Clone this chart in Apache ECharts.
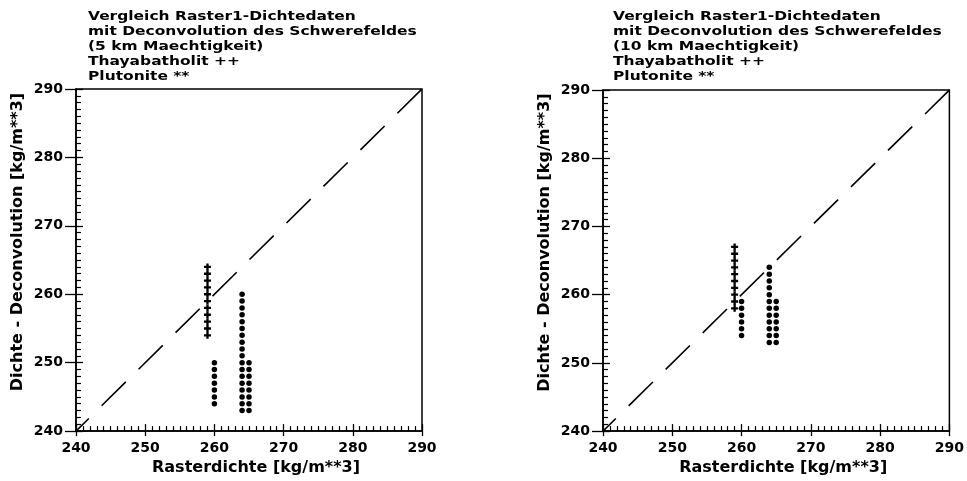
<!DOCTYPE html>
<html>
<head>
<meta charset="utf-8">
<script src="https://cdn.jsdelivr.net/npm/echarts@6/dist/echarts.min.js"></script>
<style>
html,body{margin:0;padding:0;background:#fff;}
#chart{width:967px;height:481px;}
</style>
</head>
<body>
<div id="chart"></div>
<script>
// ---- data ----
const titleLeft = ['Vergleich Raster1-Dichtedaten', 'mit Deconvolution des Schwerefeldes', '(5 km Maechtigkeit)', 'Thayabatholit ++', 'Plutonite **'];
const titleRight = ['Vergleich Raster1-Dichtedaten', 'mit Deconvolution des Schwerefeldes', '(10 km Maechtigkeit)', 'Thayabatholit ++', 'Plutonite **'];
const xAxisName = 'Rasterdichte [kg/m**3]';
const yAxisName = 'Dichte - Deconvolution [kg/m**3]';
const axisMin = 240, axisMax = 290, axisStep = 10;
const diagonal = [240, 290];

// left panel (5 km)
const thayaLeftX = [259, 259, 259, 259, 259, 259, 259, 259, 259, 259, 259];
const thayaLeftY = [254, 255, 256, 257, 258, 259, 260, 261, 262, 263, 264];
const plutoLeftX = [260, 260, 260, 260, 260, 260, 260,
  264, 264, 264, 264, 264, 264, 264, 264, 264, 264, 264, 264, 264, 264, 264, 264, 264, 264,
  265, 265, 265, 265, 265, 265, 265, 265];
const plutoLeftY = [244, 245, 246, 247, 248, 249, 250,
  243, 244, 245, 246, 247, 248, 249, 250, 251, 252, 253, 254, 255, 256, 257, 258, 259, 260,
  243, 244, 245, 246, 247, 248, 249, 250];

// right panel (10 km)
const thayaRightX = [259, 259, 259, 259, 259, 259, 259, 259, 259, 259];
const thayaRightY = [258, 259, 260, 261, 262, 263, 264, 265, 266, 267];
const plutoRightX = [260, 260, 260, 260, 260, 260,
  264, 264, 264, 264, 264, 264, 264, 264, 264, 264, 264, 264,
  265, 265, 265, 265, 265, 265, 265];
const plutoRightY = [254, 255, 256, 257, 258, 259,
  253, 254, 255, 256, 257, 258, 259, 260, 261, 262, 263, 264,
  253, 254, 255, 256, 257, 258, 259];

// ---- chart ----
const zip = (xs, ys) => xs.map((x, i) => [x, ys[i]]);
const FONT = 'DejaVu Sans';
const plusPath = 'path://M2,0H4V2H6V4H4V6H2V4H0V2H2Z';
const grids = [
  {left: 76, top: 89, width: 346, height: 343},
  {left: 603, top: 90, width: 349, height: 343}
];

function mainAxis(kind, gi, name) {
  const isX = kind === 'x';
  return {
    type: 'value', gridIndex: gi, min: axisMin, max: axisMax, interval: axisStep,
    position: isX ? 'bottom' : 'left',
    name: name, nameLocation: 'middle',
    nameGap: isX ? 27 : 50,
    nameTextStyle: {fontFamily: FONT, fontWeight: 'bold', fontSize: 16, color: '#000',
      padding: isX ? [0, 0, 0, 14] : [0, 0, 0, 36]},
    axisLine: {show: true, lineStyle: {color: '#000', width: 1.5}},
    axisTick: {show: true, inside: true, length: 7, lineStyle: {color: '#000', width: 1.3}},
    minorTick: {show: true, splitNumber: 10, length: 5, lineStyle: {color: '#000', width: 1.2}},
    axisLabel: {fontFamily: FONT, fontWeight: 'bold', fontSize: 14, color: '#000', margin: isX ? 10 : 13},
    splitLine: {show: false}
  };
}
function outerTickAxis(kind, gi) {
  const isX = kind === 'x';
  return {
    type: 'value', gridIndex: gi, min: axisMin, max: axisMax, interval: axisStep,
    position: isX ? 'bottom' : 'left',
    axisLine: {show: false},
    axisTick: {show: true, inside: false, length: isX ? 5 : 11, lineStyle: {color: '#000', width: 1.3}},
    axisLabel: {show: false},
    splitLine: {show: false}
  };
}

const xAxes = [], yAxes = [];
[0, 1].forEach(gi => {
  xAxes.push(mainAxis('x', gi, xAxisName));
  yAxes.push(mainAxis('y', gi, yAxisName));
});
[0, 1].forEach(gi => {
  xAxes.push(outerTickAxis('x', gi));
  yAxes.push(outerTickAxis('y', gi));
});

function seriesFor(gi, thX, thY, plX, plY) {
  return [
    {type: 'line', xAxisIndex: gi, yAxisIndex: gi, data: [[diagonal[0], diagonal[0]], [diagonal[1], diagonal[1]]],
      symbol: 'none', silent: true,
      lineStyle: {color: '#000', width: 1.6, type: [34, 18], dashOffset: 16}},
    {type: 'scatter', name: 'Plutonite', xAxisIndex: gi, yAxisIndex: gi, data: zip(plX, plY),
      symbol: 'circle', symbolSize: 5.5, itemStyle: {color: '#000', opacity: 1}},
    {type: 'scatter', name: 'Thayabatholit', xAxisIndex: gi, yAxisIndex: gi, data: zip(thX, thY),
      symbol: plusPath, symbolSize: 7, itemStyle: {color: '#000', opacity: 1}}
  ];
}

function titleGraphic(lines, left) {
  return {
    type: 'text', left: left, top: 9, scaleX: 1.19,
    style: {text: lines.join('\n'), font: 'bold 13px "DejaVu Sans"', fill: '#000', lineHeight: 15}
  };
}

const chart = echarts.init(document.getElementById('chart'), null, {renderer: 'canvas'});
chart.setOption({
  backgroundColor: '#fff',
  animation: false,
  grid: grids.map(g => Object.assign({show: true, borderColor: '#000', borderWidth: 1.5, backgroundColor: 'transparent'}, g)),
  xAxis: xAxes,
  yAxis: yAxes,
  graphic: [titleGraphic(titleLeft, 88), titleGraphic(titleRight, 613)],
  series: [].concat(
    seriesFor(0, thayaLeftX, thayaLeftY, plutoLeftX, plutoLeftY),
    seriesFor(1, thayaRightX, thayaRightY, plutoRightX, plutoRightY)
  )
});
</script>
</body>
</html>
